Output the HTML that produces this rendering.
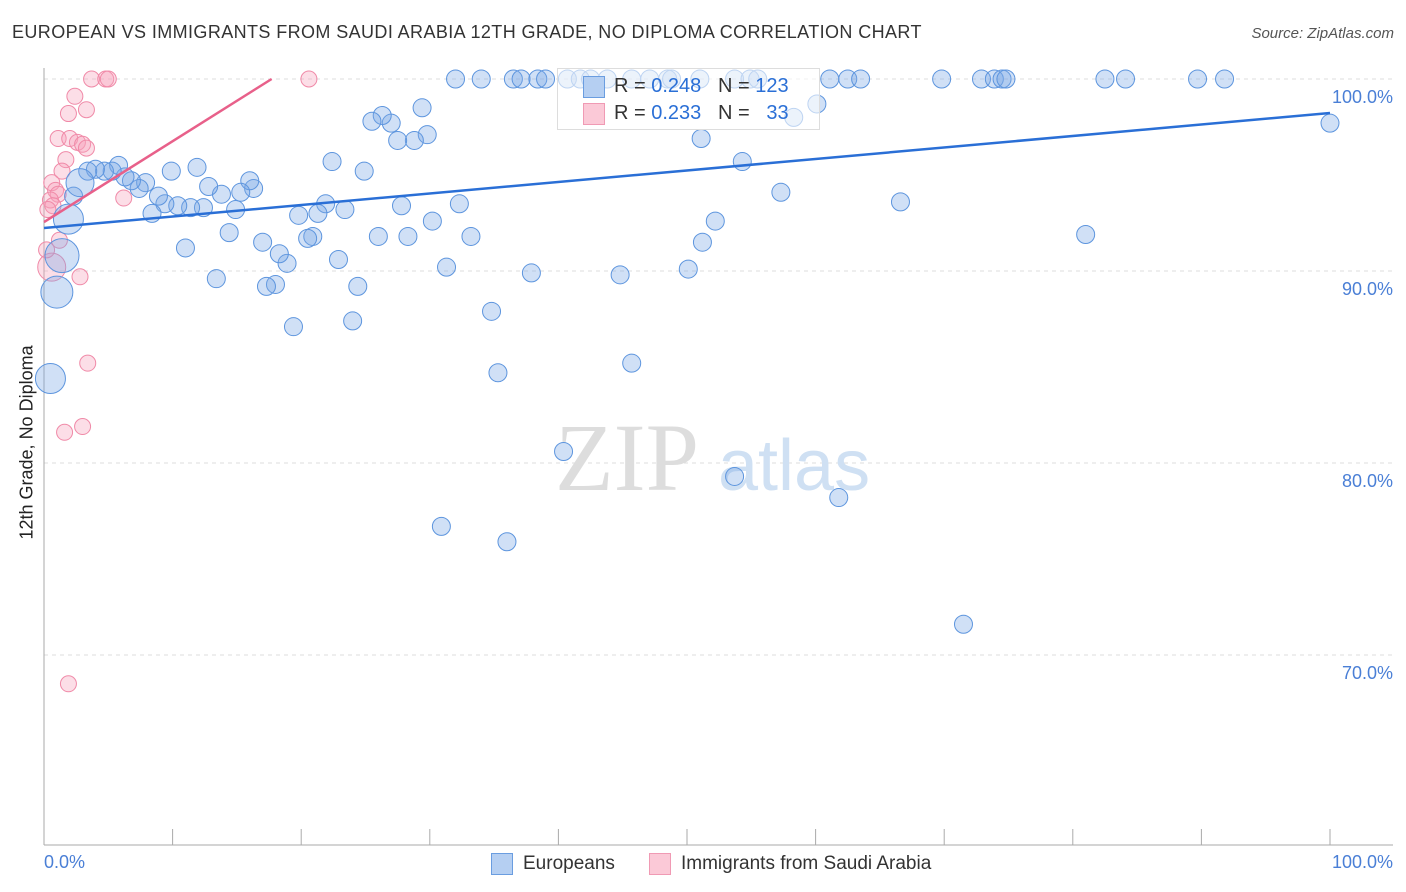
<!DOCTYPE html>
<html><head><meta charset="utf-8"><style>
body{margin:0;background:#fff;font-family:"Liberation Sans",sans-serif}
#wrap{position:relative;width:1406px;height:892px;overflow:hidden}
.t{position:absolute;white-space:nowrap}
</style></head><body>
<div id="wrap">
<div class="t" style="left:12px;top:22px;font-size:18px;color:#333;letter-spacing:0.4px">EUROPEAN VS IMMIGRANTS FROM SAUDI ARABIA 12TH GRADE, NO DIPLOMA CORRELATION CHART</div>
<div class="t" style="right:12px;top:25px;font-size:15px;color:#555;font-style:italic">Source: ZipAtlas.com</div>
<svg id="svg" width="1406" height="892" style="position:absolute;left:0;top:0"></svg>
</div>
<script>
const blueX=[32.0,34.0,36.5,37.1,38.4,39.0,40.7,41.7,42.5,43.8,45.7,47.1,48.5,48.8,51.0,53.7,54.9,55.5,61.1,62.5,63.5,69.8,72.9,73.9,74.5,74.8,82.5,84.1,89.7,91.8,
100,60.1,58.3,51.1,54.3,57.3,66.6,81.0,51.2,52.2,50.1,44.8,45.7,61.8,53.7,40.4,71.5,30.9,36.0,35.3,34.8,37.9,33.2,32.3,30.2,31.3,28.3,27.8,29.8,28.8,29.4,27.5,27.0,26.3,25.5,24.9,22.4,23.4,26.0,24.0,24.4,22.9,21.9,21.3,20.9,20.5,19.8,19.4,18.9,18.3,18.0,17.3,17.0,16.3,16.0,15.3,14.9,14.4,13.8,13.4,12.8,12.4,11.9,11.4,11.0,10.4,9.9,9.4,8.9,8.4,7.9,7.4,6.8,6.3,5.8,5.3,4.7,4.0,3.4,2.3,2.8,1.9,1.4,1.0,0.5];
const blueY=[100,100,100,100,100,100,100,100,100,100,100,100,100,100,100,100,100,100,100,100,100,100,100,100,100,100,100,100,100,100,
97.7,98.7,98.0,96.9,95.7,94.1,93.6,91.9,91.5,92.6,90.1,89.8,85.2,78.2,79.3,80.6,71.6,76.7,75.9,84.7,87.9,89.9,91.8,93.5,92.6,90.2,91.8,93.4,97.1,96.8,98.5,96.8,97.7,98.1,97.8,95.2,95.7,93.2,91.8,87.4,89.2,90.6,93.5,93.0,91.8,91.7,92.9,87.1,90.4,90.9,89.3,89.2,91.5,94.3,94.7,94.1,93.2,92.0,94.0,89.6,94.4,93.3,95.4,93.3,91.2,93.4,95.2,93.5,93.9,93.0,94.6,94.3,94.7,94.9,95.5,95.2,95.2,95.3,95.2,93.9,94.6,92.7,90.8,88.9,84.4];
const blueSize=blueX.map((v,i)=>i>=blueX.length-5?[14,15,17,16,15][i-(blueX.length-5)]:9);
const pinkX=[3.7,4.8,5.0,20.6,2.4,3.3,1.9,1.1,2.0,2.6,3.0,3.3,1.7,1.4,0.6,0.9,1.1,0.5,0.7,0.3,6.2,2.8,1.2,0.6,3.4,3.0,1.6,1.9,0.2];
const pinkY=[100,100,100,100,99.1,98.4,98.2,96.9,96.9,96.7,96.6,96.4,95.8,95.2,94.6,94.2,94.0,93.7,93.4,93.2,93.8,89.7,91.6,90.2,85.2,81.9,81.6,68.5,91.1];
const pinkSize=pinkX.map((v,i)=>i===23?14:8);
const blueTrend=[[0,92.24],[100,98.23]];
const pinkTrend=[[0,92.55],[17.7,100]];
const yTicks=[100,90,80,70];
const yTickLabels=["100.0%","90.0%","80.0%","70.0%"];
const xTicks=[0,10,20,30,40,50,60,70,80,90,100];

const X=v=>44+v*12.86, Y=v=>79+(100-v)*19.2;
const svg=document.getElementById('svg');const NS='http://www.w3.org/2000/svg';
function mk(tag,attrs,name){const e=document.createElementNS(NS,tag);for(const k in attrs)e.setAttribute(k,attrs[k]);


svg.appendChild(e);return e;}
yTicks.forEach((t,i)=>{mk('line',{x1:44,x2:1393,y1:Y(t),y2:Y(t),stroke:'#ddd','stroke-dasharray':'4,4'},'gridline');
const tx=mk('text',{x:1393,y:Y(t)+24,'text-anchor':'end','font-size':18,fill:'#4a7fd6','font-family':'Liberation Sans'},'y-tick-label');tx.textContent=yTickLabels[i];});
mk('line',{x1:44,x2:44,y1:68,y2:845,stroke:'#aaa'},'y-axis');
mk('line',{x1:44,x2:1393,y1:845,y2:845,stroke:'#aaa'},'x-axis');
xTicks.forEach(t=>mk('line',{x1:X(t),x2:X(t),y1:829,y2:845,stroke:'#aaa'},'x-tick'));
const wm=mk('text',{x:555,y:490,'font-size':96,fill:'#ddd','font-family':'Liberation Serif'},'watermark');wm.textContent='ZIP';
const wm2=mk('text',{x:718,y:490,'font-size':72,fill:'#cfe0f3','font-family':'Liberation Sans'},'watermark-atlas');wm2.textContent='atlas';
pinkX.forEach((v,i)=>mk('circle',{cx:X(v),cy:Y(pinkY[i]),r:pinkSize[i],fill:'rgba(247,160,185,0.35)',stroke:'#f08aa8','stroke-width':1},'pink-point'));
blueX.forEach((v,i)=>mk('circle',{cx:X(v),cy:Y(blueY[i]),r:blueSize[i],fill:'rgba(120,165,230,0.35)',stroke:'#5d95de','stroke-width':1},'blue-point'));
mk('line',{x1:X(blueTrend[0][0]),y1:Y(blueTrend[0][1]),x2:X(blueTrend[1][0]),y2:Y(blueTrend[1][1]),stroke:'#2a6fd6','stroke-width':2.5},'blue-trend-line');
mk('line',{x1:X(pinkTrend[0][0]),y1:Y(pinkTrend[0][1]),x2:X(pinkTrend[1][0]),y2:Y(pinkTrend[1][1]),stroke:'#e8608a','stroke-width':2.5},'pink-trend-line');
</script>
<div class="t" style="left:557px;top:68px;width:261px;height:60px;border:1px solid #ddd;background:rgba(255,255,255,0.6)"></div>
<div class="t" style="left:583px;top:76px;width:20px;height:20px;background:#b5cff2;border:1px solid #6a9de0"></div>
<div class="t" style="left:583px;top:103px;width:20px;height:20px;background:#fbc9d7;border:1px solid #f09ab4"></div>
<div class="t" style="left:614px;top:75px;font-size:20px;color:#333">R = <span style="color:#2a6fd6">0.248</span>&nbsp;&nbsp;&nbsp;N = <span style="color:#2a6fd6">123</span></div>
<div class="t" style="left:614px;top:102px;font-size:20px;color:#333">R = <span style="color:#2a6fd6">0.233</span>&nbsp;&nbsp;&nbsp;N = &nbsp;&nbsp;<span style="color:#2a6fd6">33</span></div>
<div class="t" style="left:44px;top:852px;font-size:18px;color:#4a7fd6">0.0%</div>
<div class="t" style="right:13px;top:852px;font-size:18px;color:#4a7fd6">100.0%</div>
<div class="t" style="left:-58px;top:444px;font-size:18px;color:#222;transform:rotate(-90deg);width:170px;text-align:center">12th Grade, No Diploma</div>
<div class="t" style="left:491px;top:853px;width:20px;height:20px;background:#b5cff2;border:1px solid #6a9de0"></div>
<div class="t" style="left:523px;top:853px;font-size:19px;color:#333">Europeans</div>
<div class="t" style="left:649px;top:853px;width:20px;height:20px;background:#fbc9d7;border:1px solid #f09ab4"></div>
<div class="t" style="left:681px;top:853px;font-size:19px;color:#333">Immigrants from Saudi Arabia</div>
</body></html>
